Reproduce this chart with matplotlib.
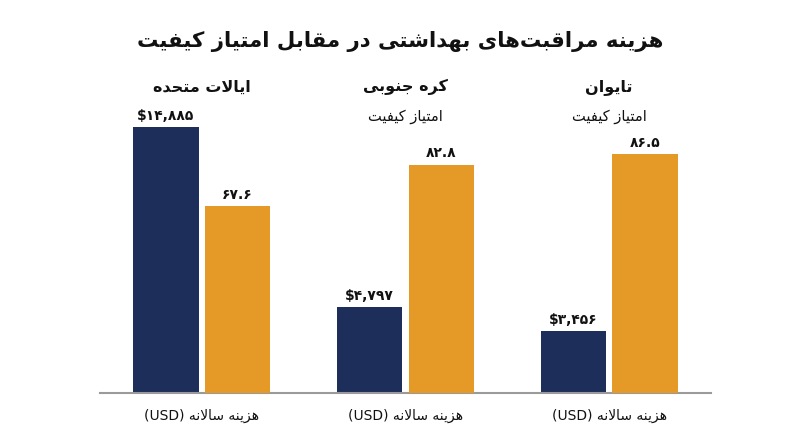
import numpy as np
import matplotlib
matplotlib.use('Agg')
import matplotlib.pyplot as plt
from matplotlib import transforms

plt.rcParams['font.family'] = ['DejaVu Sans']

title = 'هزینه مراقبت\u200cهای بهداشتی در مقابل امتیاز کیفیت'
countries = ['ایالات متحده', 'کره جنوبی', 'تایوان']
cost = [14885, 4797, 3456]
score = [67.6, 82.8, 86.5]
show_sub = [False, True, True]
sub_label = 'امتیاز کیفیت'
cost_label = 'هزینه سالانه'

navy = '#1c2e59'
orange = '#e59a28'

# matplotlib does no arabic shaping, so pick presentation forms by hand
FORMS = {
    '\u0627': ('\uFE8D', '\uFE8E', None, None),
    '\u0628': ('\uFE8F', '\uFE90', '\uFE91', '\uFE92'),
    '\u062A': ('\uFE95', '\uFE96', '\uFE97', '\uFE98'),
    '\u062C': ('\uFE9D', '\uFE9E', '\uFE9F', '\uFEA0'),
    '\u062D': ('\uFEA1', '\uFEA2', '\uFEA3', '\uFEA4'),
    '\u062F': ('\uFEA9', '\uFEAA', None, None),
    '\u0631': ('\uFEAD', '\uFEAE', None, None),
    '\u0632': ('\uFEAF', '\uFEB0', None, None),
    '\u0633': ('\uFEB1', '\uFEB2', '\uFEB3', '\uFEB4'),
    '\u0634': ('\uFEB5', '\uFEB6', '\uFEB7', '\uFEB8'),
    '\u0641': ('\uFED1', '\uFED2', '\uFED3', '\uFED4'),
    '\u0642': ('\uFED5', '\uFED6', '\uFED7', '\uFED8'),
    '\u0644': ('\uFEDD', '\uFEDE', '\uFEDF', '\uFEE0'),
    '\u0645': ('\uFEE1', '\uFEE2', '\uFEE3', '\uFEE4'),
    '\u0646': ('\uFEE5', '\uFEE6', '\uFEE7', '\uFEE8'),
    '\u0647': ('\uFEE9', '\uFEEA', '\uFEEB', '\uFEEC'),
    '\u0648': ('\uFEED', '\uFEEE', None, None),
    '\u06CC': ('\uFBFC', '\uFBFD', '\uFBFE', '\uFBFF'),
    '\u06A9': ('\uFB8E', '\uFB8F', '\uFB90', '\uFB91'),
}


def fa(s):
    s = s.replace('\u064A', '\u06CC').replace('\u0643', '\u06A9')
    out = []
    i = 0
    n = len(s)
    while i < n:
        c = s[i]
        if c not in FORMS:
            if c != '\u200c':
                out.append(c)
            i += 1
            continue
        prev = s[i-1] if i > 0 else None
        jp = prev in FORMS and FORMS[prev][2] is not None
        if c == '\u0644' and i+1 < n and s[i+1] == '\u0627':
            out.append('\uFEFC' if jp else '\uFEFB')
            i += 2
            continue
        nxt = s[i+1] if i+1 < n else None
        jn = FORMS[c][2] is not None and nxt in FORMS
        iso, fin, ini, med = FORMS[c]
        out.append(med if jp and jn else fin if jp else ini if jn else iso)
        i += 1
    return ''.join(reversed(out))


digits = str.maketrans('0123456789', '۰۱۲۳۴۵۶۷۸۹')

fig = plt.figure(figsize=(8, 4.47), dpi=100)
ax = fig.add_axes([100/800, 54/447, 611/800, 333/447])
ax2 = ax.twinx()

x = np.arange(len(countries))
off = 0.176
w = 0.32
ax.bar(x - off, cost, w, color=navy)
ax2.bar(x + off, score, w, color=orange)
ax.set_xlim(-0.5, 2.5)
ax.set_ylim(0, 18655)
ax2.set_ylim(0, 120.7)

for a in (ax, ax2):
    a.set_yticks([])
    a.set_xticks([])
    for s in ['top', 'left', 'right']:
        a.spines[s].set_visible(False)
ax2.spines['bottom'].set_visible(False)
ax.spines['bottom'].set_color('#9a9a9a')
ax.spines['bottom'].set_linewidth(1.5)

for xi, c in zip(x, cost):
    ax.annotate('$' + f'{c:,}'.translate(digits), (xi - off, c), xytext=(0, 3),
                textcoords='offset points', ha='center', va='bottom',
                fontsize=10, fontweight='bold', color='#111111')
for xi, s in zip(x, score):
    ax2.annotate(f'{s:.1f}'.translate(digits), (xi + off, s), xytext=(0, 3),
                 textcoords='offset points', ha='center', va='bottom',
                 fontsize=10, fontweight='bold', color='#111111')

tr = transforms.blended_transform_factory(ax.transData, fig.transFigure)
for xi, name, sh in zip(x, countries, show_sub):
    ax.text(xi, 1 - 87/447, fa(name), transform=tr, ha='center', va='center',
            fontsize=11.5, fontweight='bold', color='#111111')
    if sh:
        ax.text(xi, 1 - 117/447, fa(sub_label), transform=tr, ha='center',
                va='center', fontsize=10.5, color='#111111')
    ax.text(xi, 1 - 416/447, '(USD) ' + fa(cost_label), transform=tr,
            ha='center', va='center', fontsize=10, color='#111111')

fig.text(0.5, 1 - 41/447, fa(title), ha='center', va='center',
         fontsize=15.3, fontweight='bold', color='#111111')

fig.savefig('out.png', dpi=100, facecolor='white')
